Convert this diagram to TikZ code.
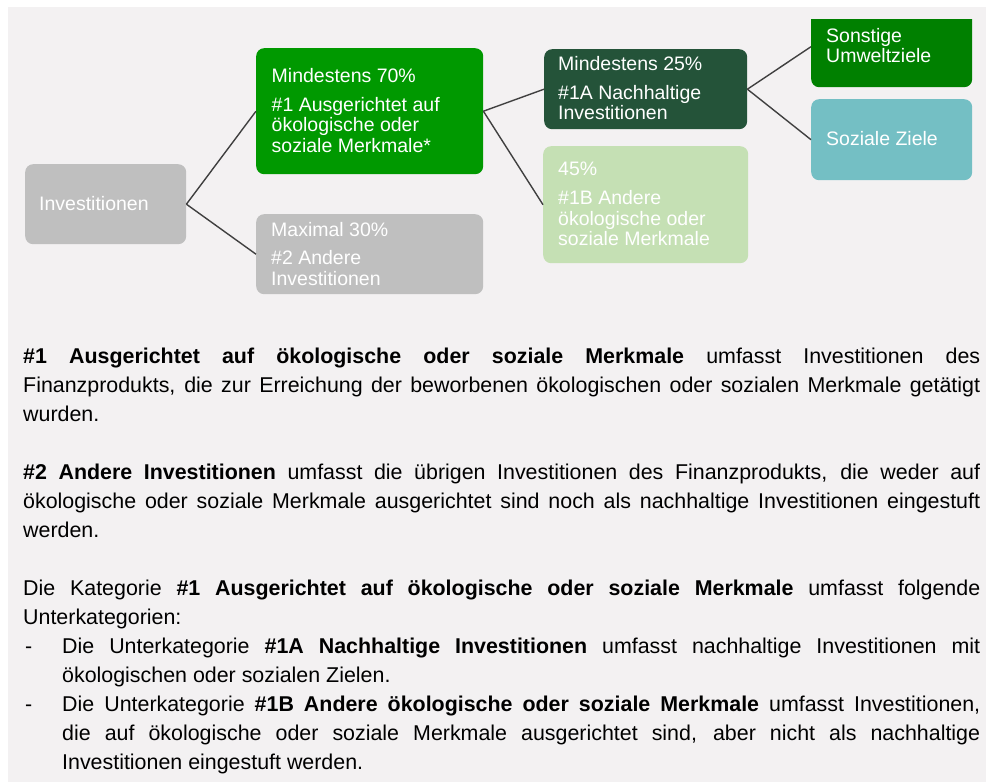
\documentclass[tikz,border=0pt]{standalone}
\usepackage{fontspec}
\setmainfont{Liberation Sans}
\definecolor{bgcol}{HTML}{F3F1F2}
\definecolor{ggray}{HTML}{BFBFBF}
\definecolor{g70}{HTML}{009900}
\definecolor{g25}{HTML}{245339}
\definecolor{g45}{HTML}{C5E0B4}
\definecolor{gso}{HTML}{008000}
\definecolor{gsz}{HTML}{74BFC4}
\definecolor{linecol}{HTML}{404040}
\begin{document}
\begin{tikzpicture}[x=1pt,y=-1pt,
  box/.style={rounded corners=8pt, inner sep=0pt, anchor=north west, draw=none},
  btxt/.style={anchor=base west, inner sep=0pt, text=white, font=\fontsize{19.5}{21}\selectfont},
  ltxt/.style={anchor=base west, inner sep=0pt, text=black, font=\fontsize{21.4}{29}\selectfont},
  conn/.style={draw=linecol, line width=1.4pt}]
\useasboundingbox (0,0) rectangle (986,782);
\fill[white] (0,0) rectangle (986,782);
\fill[bgcol] (8,7) rectangle (986,782);

% boxes
\node[box, fill=ggray, minimum width=161pt, minimum height=80pt] (inv) at (25,164) {};
\node[box, fill=g70, minimum width=227pt, minimum height=126pt] (b70) at (256,48) {};
\node[box, fill=ggray, minimum width=227pt, minimum height=80pt] (b30) at (256,214) {};
\node[box, fill=g25, minimum width=203pt, minimum height=80pt] (b25) at (544,49) {};
\node[box, fill=g45, minimum width=205pt, minimum height=117pt] (b45) at (543,146) {};
\begin{scope}
\clip (800,19) rectangle (986,100);
\node[box, fill=gso, minimum width=161pt, minimum height=81pt] (so) at (811,6) {};
\end{scope}
\node[box, fill=gsz, minimum width=161pt, minimum height=81pt] (sz) at (811,99) {};

% connectors
\draw[conn] (inv.east) -- (b70.west);
\draw[conn] (inv.east) -- (b30.west);
\draw[conn] (b70.east) -- (b25.west);
\draw[conn] (b70.east) -- (b45.west);
\draw[conn] (b25.east) -- (so.west);
\draw[conn] (b25.east) -- (sz.west);

% box texts
\node[btxt] (tinv) at (39,210.7) {Investitionen};
\node[btxt] (t70a) at (271.5,82.7) {Mindestens 70\%};
\node[btxt] (t70b) at (271.5,111) {\#1 Ausgerichtet auf};
\node[btxt] (t70c) at (271.5,131.7) {ökologische oder};
\node[btxt] (t70d) at (271.5,152.3) {soziale Merkmale*};
\node[btxt] (t30a) at (271,236) {Maximal 30\%};
\node[btxt] (t30b) at (271,264.3) {\#2 Andere};
\node[btxt] (t30c) at (271,285) {Investitionen};
\node[btxt] (t25a) at (558,70.7) {Mindestens 25\%};
\node[btxt] (t25b) at (558,99) {\#1A Nachhaltige};
\node[btxt] (t25c) at (558,119.3) {Investitionen};
\node[btxt] (t45a) at (558,175.7) {45\%};
\node[btxt] (t45b) at (558,204) {\#1B Andere};
\node[btxt] (t45c) at (558,225) {ökologische oder};
\node[btxt] (t45d) at (558,245.7) {soziale Merkmale};
\node[btxt] (tsoa) at (826,42.7) {Sonstige};
\node[btxt] (tsob) at (826,62.7) {Umweltziele};
\node[btxt] (tsz) at (826,145.7) {Soziale Ziele};

% lower text
\node[ltxt] (l1) at (23,363) {\makebox[957pt][s]{\textbf{\#1 Ausgerichtet auf ökologische oder soziale Merkmale} umfasst Investitionen des}};
\node[ltxt] (l2) at (23,392) {\makebox[957pt][s]{Finanzprodukts, die zur Erreichung der beworbenen ökologischen oder sozialen Merkmale getätigt}};
\node[ltxt] (l3) at (23,421) {wurden.};
\node[ltxt] (l5) at (23,479) {\makebox[957pt][s]{\textbf{\#2 Andere Investitionen} umfasst die übrigen Investitionen des Finanzprodukts, die weder auf}};
\node[ltxt] (l6) at (23,508) {\makebox[957pt][s]{ökologische oder soziale Merkmale ausgerichtet sind noch als nachhaltige Investitionen eingestuft}};
\node[ltxt] (l7) at (23,537) {werden.};
\node[ltxt] (l9) at (23,595) {\makebox[957pt][s]{Die Kategorie \textbf{\#1 Ausgerichtet auf ökologische oder soziale Merkmale} umfasst folgende}};
\node[ltxt] (l10) at (23,624) {Unterkategorien:};
\node[ltxt] (d1) at (25,653) {-};
\node[ltxt] (l11) at (62,653) {\makebox[918pt][s]{Die Unterkategorie \textbf{\#1A Nachhaltige Investitionen} umfasst nachhaltige Investitionen mit}};
\node[ltxt] (l12) at (62,682) {ökologischen oder sozialen Zielen.};
\node[ltxt] (d2) at (25,711) {-};
\node[ltxt] (l13) at (62,711) {\makebox[918pt][s]{Die Unterkategorie \textbf{\#1B Andere ökologische oder soziale Merkmale} umfasst Investitionen,}};
\node[ltxt] (l14) at (62,740) {\makebox[918pt][s]{die auf ökologische oder soziale Merkmale ausgerichtet sind, aber nicht als nachhaltige}};
\node[ltxt] (l15) at (62,769) {Investitionen eingestuft werden.};
\end{tikzpicture}
\end{document}
